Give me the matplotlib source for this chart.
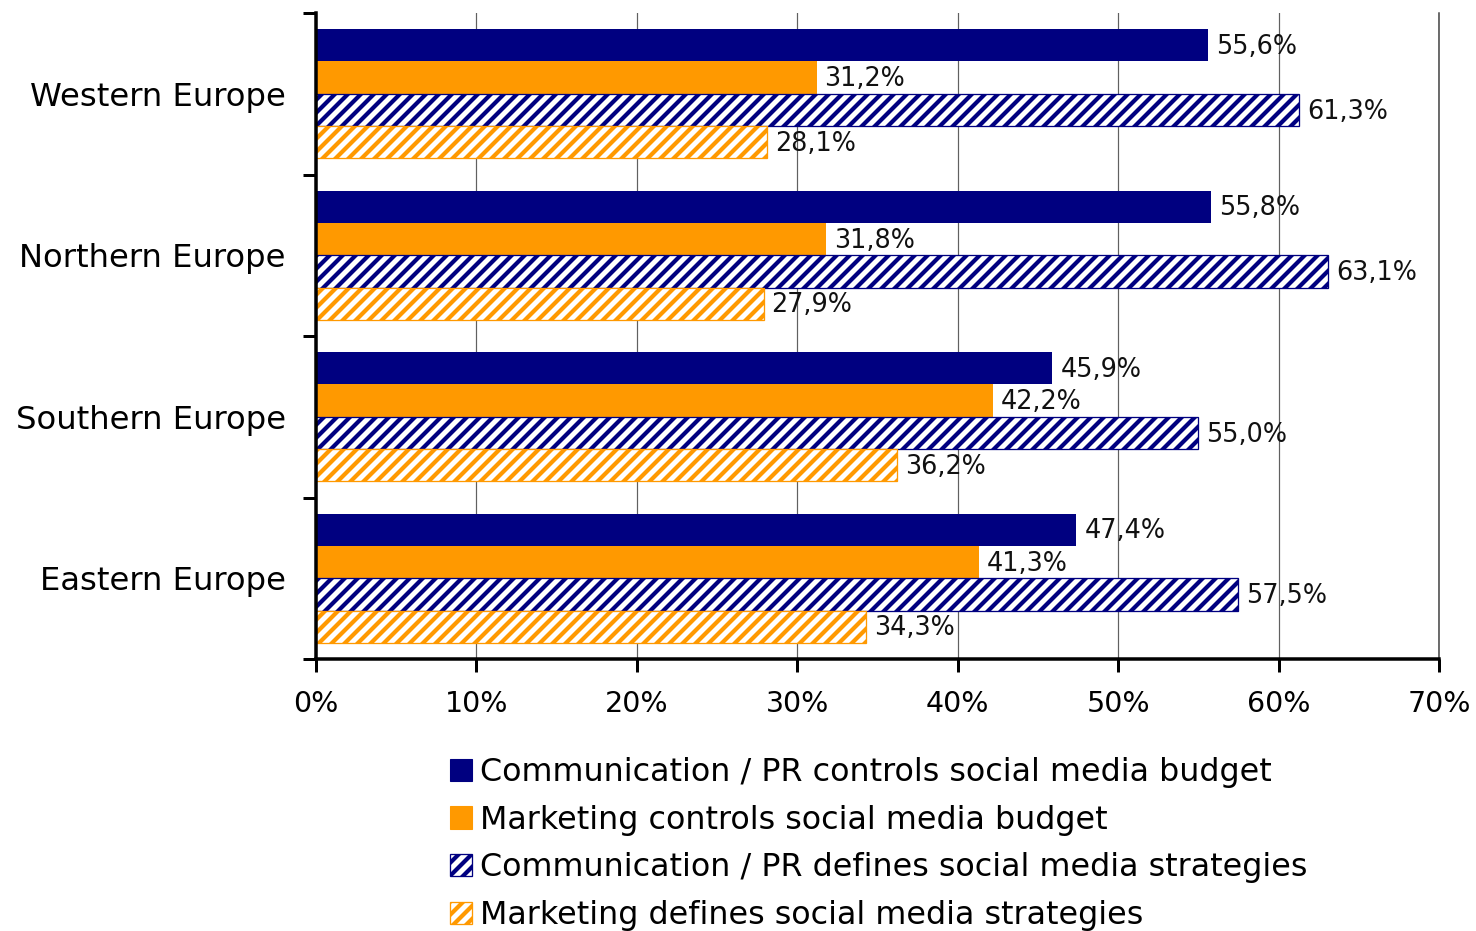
import matplotlib
matplotlib.use("Agg")
import matplotlib.pyplot as plt
from matplotlib.patches import Patch
import numpy as np

# Survey shares (%) by region
regions = ["Western Europe", "Northern Europe", "Southern Europe", "Eastern Europe"]
comm_budget = [55.6, 55.8, 45.9, 47.4]
mkt_budget = [31.2, 31.8, 42.2, 41.3]
comm_strategy = [61.3, 63.1, 55.0, 57.5]
mkt_strategy = [28.1, 27.9, 36.2, 34.3]
series_names = [
    "Communication / PR controls social media budget",
    "Marketing controls social media budget",
    "Communication / PR defines social media strategies",
    "Marketing defines social media strategies",
]
x_ticks = [0, 10, 20, 30, 40, 50, 60, 70]

NAVY = "#000080"
ORANGE = "#FF9900"

# Render at 78 dpi so the hatch tile gives fine diagonal stripes;
# sizes below are given in pixels and converted to points.
DPI = 78
W, H = 1477, 931


def pt(px):
    return px * 72.0 / DPI


plt.rcParams["font.family"] = ["DejaVu Sans"]
plt.rcParams["hatch.linewidth"] = pt(4.2)

fig = plt.figure(figsize=(W / DPI, H / DPI), dpi=DPI)
ax = fig.add_axes([316 / W, 1 - 659 / H, (1439 - 316) / W, (659 - 13) / H])

series = [comm_budget, mkt_budget, comm_strategy, mkt_strategy]
colors = [NAVY, ORANGE, NAVY, ORANGE]
hatches = [None, None, "//", "//"]
offsets = [-0.3, -0.1, 0.1, 0.3]
h = 0.2
y = np.arange(len(regions))

for vals, col, hat, off in zip(series, colors, hatches, offsets):
    if hat is None:
        ax.barh(y + off, vals, height=h, color=col, edgecolor=col, linewidth=0, zorder=2)
    else:
        ax.barh(y + off, vals, height=h, facecolor="white", edgecolor=col,
                hatch=hat, linewidth=pt(1.3), zorder=2)
    for yy, v in zip(y + off, vals):
        ax.text(v + 0.5, yy + 0.01, f"{v:.1f}%".replace(".", ","), va="center", ha="left",
                fontsize=pt(25.5), color="#111111", zorder=3)

ax.set_xlim(0, 70)
ax.set_ylim(3.5, -0.5)

ax.set_xticks(x_ticks)
ax.set_xticklabels([f"{t}%" for t in x_ticks], fontsize=pt(28.5))
ax.tick_params(axis="x", direction="out", length=pt(13), width=pt(3), pad=pt(18), color="black")

ax.set_yticks(np.arange(-0.5, 4.0, 1.0))
ax.set_yticklabels([])
ax.set_yticks(y, minor=True)
ax.set_yticklabels(regions, minor=True, fontsize=pt(32.2))
ax.tick_params(axis="y", which="major", direction="out", length=pt(13), width=pt(3))
ax.tick_params(axis="y", which="minor", length=0, pad=pt(30))

ax.grid(axis="x", color="#606060", linewidth=pt(1.2), zorder=0)
ax.set_axisbelow(True)
ax.spines["top"].set_visible(False)
ax.spines["right"].set_color("#404040")
ax.spines["right"].set_linewidth(pt(1.5))
for side in ["left", "bottom"]:
    ax.spines[side].set_linewidth(pt(3.5))
    ax.spines[side].set_color("black")

handles = []
for name, col, hat in zip(series_names, colors, hatches):
    if hat is None:
        handles.append(Patch(facecolor=col, edgecolor=col, label=name))
    else:
        handles.append(Patch(facecolor="white", edgecolor=col, hatch=hat,
                             linewidth=pt(1.3), label=name))

fig.legend(handles=handles, loc="upper left", bbox_to_anchor=(450 / W, 1 - 757 / H),
           frameon=False, fontsize=pt(31.8), handlelength=0.7, handleheight=0.7,
           handletextpad=0.25, labelspacing=0.525, borderpad=0, borderaxespad=0)

fig.savefig("out.png", dpi=DPI)
